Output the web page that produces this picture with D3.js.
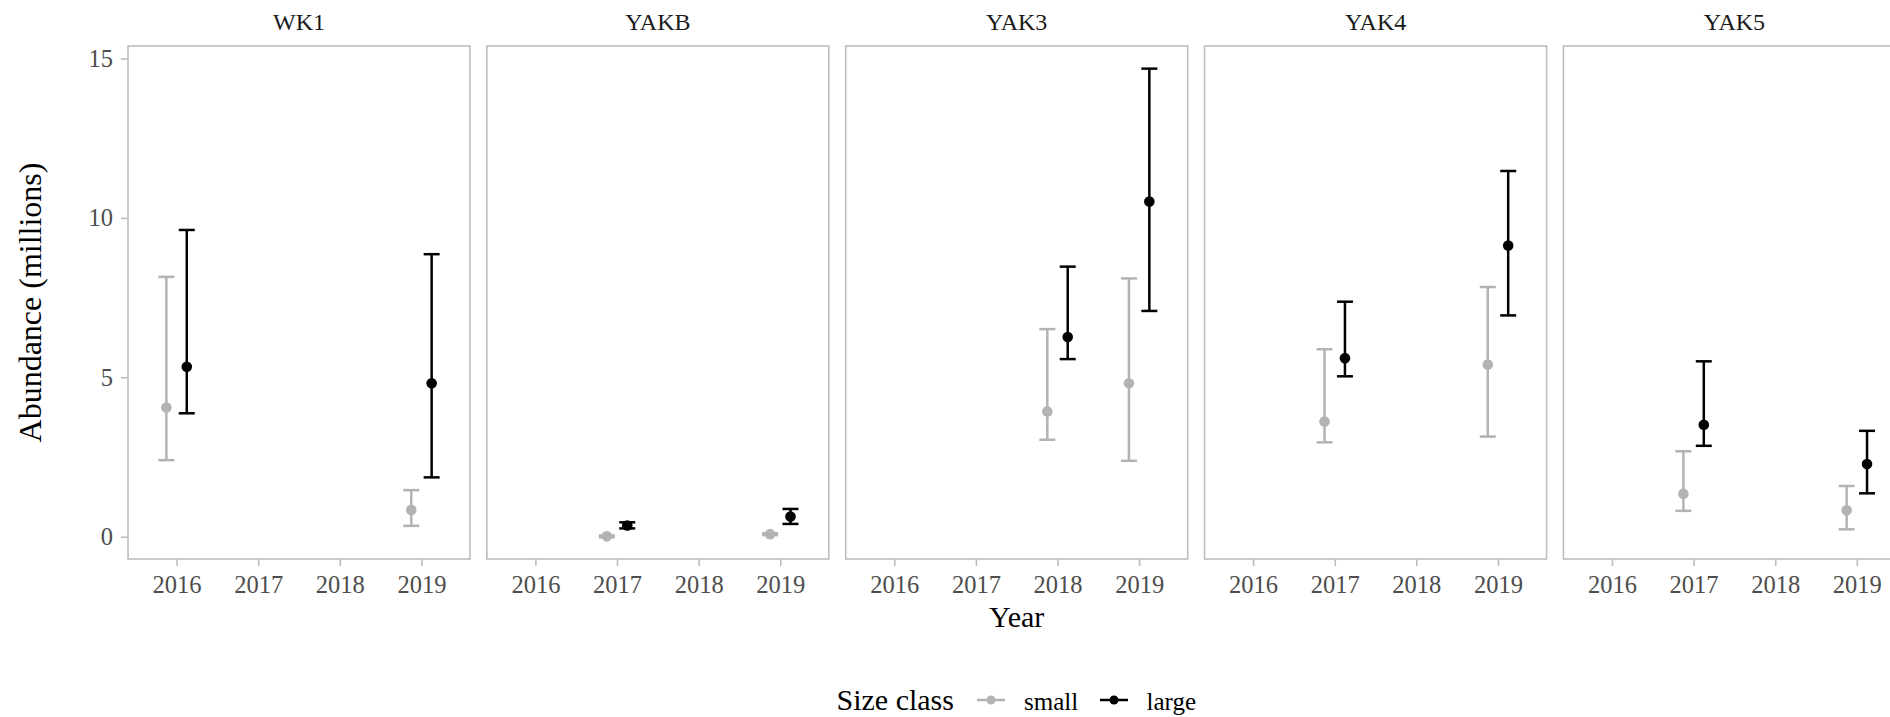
<!DOCTYPE html>
<html>
<head>
<meta charset="utf-8">
<script src="https://cdn.jsdelivr.net/npm/d3@7/dist/d3.min.js"></script>
<style>
  html, body { margin: 0; padding: 0; background: #fff; }
  svg { display: block; }
  text { font-family: "Liberation Serif", "Times New Roman", serif; }
</style>
</head>
<body>
<svg id="chart" width="1890" height="717"></svg>
<script>
// ---- data ----
const sites = ["WK1", "YAKB", "YAK3", "YAK4", "YAK5"];
const sizeClasses = ["small", "large"];
const years = [2016, 2017, 2018, 2019];
const yTicks = [0, 5, 10, 15];

const obsSite = ["WK1","WK1","WK1","WK1",
                 "YAKB","YAKB","YAKB","YAKB",
                 "YAK3","YAK3","YAK3","YAK3",
                 "YAK4","YAK4","YAK4","YAK4",
                 "YAK5","YAK5","YAK5","YAK5"];
const obsYear = [2016,2016,2019,2019,
                 2017,2017,2019,2019,
                 2018,2018,2019,2019,
                 2017,2017,2019,2019,
                 2017,2017,2019,2019];
const obsSize = ["small","large","small","large",
                 "small","large","small","large",
                 "small","large","small","large",
                 "small","large","small","large",
                 "small","large","small","large"];
const obsEstimate = [4.05, 5.33, 0.84, 4.81,
                     0.01, 0.35, 0.08, 0.63,
                     3.93, 6.26, 4.81, 10.51,
                     3.61, 5.60, 5.40, 9.13,
                     1.35, 3.51, 0.83, 2.28];
const obsLower = [2.40, 3.87, 0.34, 1.86,
                  -0.02, 0.26, 0.05, 0.40,
                  3.04, 5.57, 2.38, 7.08,
                  2.96, 5.03, 3.14, 6.94,
                  0.81, 2.85, 0.23, 1.36];
const obsUpper = [8.15, 9.62, 1.46, 8.86,
                  0.04, 0.45, 0.11, 0.87,
                  6.51, 8.47, 8.10, 14.68,
                  5.88, 7.37, 7.83, 11.47,
                  2.68, 5.50, 1.59, 3.32];

// ---- layout ----
const colorMap = { small: "#B3B3B3", large: "#000000" };
const panelLeft0 = 128, panelStep = 358.85, panelW = 342;
const panelTop = 46, panelBottom = 559;
const borderColor = "#BDBDBD";
const tickTextColor = "#4D4D4D";

const svg = d3.select("#chart");

const data = obsSite.map((s, i) => ({
  site: s, year: obsYear[i], size: obsSize[i],
  est: obsEstimate[i], lo: obsLower[i], hi: obsUpper[i]
}));

const x = d3.scaleLinear().domain([2015.405, 2019.595]).range([0, panelW]);
const y = d3.scaleLinear().domain([-0.70, 15.39]).range([panelBottom, panelTop]);
const dodge = d3.scaleOrdinal().domain(sizeClasses).range([-0.125, 0.125]);
const capHalf = 0.098;

sites.forEach((site, pi) => {
  const gx = panelLeft0 + pi * panelStep;
  const g = svg.append("g").attr("transform", `translate(${gx},0)`);

  // panel border
  g.append("rect")
    .attr("x", 0).attr("y", panelTop)
    .attr("width", panelW).attr("height", panelBottom - panelTop)
    .attr("fill", "none").attr("stroke", borderColor).attr("stroke-width", 1.6);

  // strip title
  g.append("text")
    .attr("x", panelW / 2).attr("y", 30)
    .attr("text-anchor", "middle")
    .attr("font-size", 24)
    .attr("fill", "#1A1A1A")
    .text(site);

  // x axis
  const xa = g.append("g")
    .attr("transform", `translate(0,${panelBottom})`)
    .call(d3.axisBottom(x).tickValues(years).tickFormat(d3.format("d")).tickSize(7).tickPadding(10));
  xa.select(".domain").remove();
  xa.selectAll(".tick line").attr("stroke", borderColor).attr("stroke-width", 1.6);
  xa.selectAll(".tick text")
    .attr("font-size", 24.5).attr("fill", tickTextColor)
    .attr("font-family", '"Liberation Serif", "Times New Roman", serif');

  // y axis only on first panel
  if (pi === 0) {
    const ya = g.append("g")
      .call(d3.axisLeft(y).tickValues(yTicks).tickSize(7).tickPadding(8));
    ya.select(".domain").remove();
    ya.selectAll(".tick line").attr("stroke", borderColor).attr("stroke-width", 1.6);
    ya.selectAll(".tick text")
      .attr("font-size", 24.5).attr("fill", tickTextColor)
      .attr("font-family", '"Liberation Serif", "Times New Roman", serif');
  }

  const pd = data.filter(d => d.site === site);
  const eb = g.selectAll(".eb").data(pd).enter().append("g");
  eb.append("line")
    .attr("x1", d => x(d.year + dodge(d.size))).attr("x2", d => x(d.year + dodge(d.size)))
    .attr("y1", d => y(d.lo)).attr("y2", d => y(d.hi))
    .attr("stroke", d => colorMap[d.size]).attr("stroke-width", 2.5);
  eb.append("line")
    .attr("x1", d => x(d.year + dodge(d.size) - capHalf)).attr("x2", d => x(d.year + dodge(d.size) + capHalf))
    .attr("y1", d => y(d.hi)).attr("y2", d => y(d.hi))
    .attr("stroke", d => colorMap[d.size]).attr("stroke-width", 2.5);
  eb.append("line")
    .attr("x1", d => x(d.year + dodge(d.size) - capHalf)).attr("x2", d => x(d.year + dodge(d.size) + capHalf))
    .attr("y1", d => y(d.lo)).attr("y2", d => y(d.lo))
    .attr("stroke", d => colorMap[d.size]).attr("stroke-width", 2.5);
  eb.append("circle")
    .attr("cx", d => x(d.year + dodge(d.size))).attr("cy", d => y(d.est))
    .attr("r", 5.3)
    .attr("fill", d => colorMap[d.size]);
});

// axis titles
svg.append("text")
  .attr("x", (panelLeft0 + panelLeft0 + 4 * panelStep + panelW) / 2).attr("y", 627)
  .attr("text-anchor", "middle").attr("font-size", 30).attr("fill", "#000")
  .text("Year");

svg.append("text")
  .attr("transform", `translate(41,${(panelTop + panelBottom) / 2}) rotate(-90)`)
  .attr("text-anchor", "middle").attr("font-size", 32).attr("fill", "#000")
  .text("Abundance (millions)");

// legend
const lg = svg.append("g");
lg.append("text").attr("x", 836.5).attr("y", 710).attr("font-size", 30).attr("fill", "#000").text("Size class");
const keyX = { small: 977, large: 1100 };
const labX = { small: 1024, large: 1146.5 };
sizeClasses.forEach(s => {
  lg.append("line").attr("x1", keyX[s]).attr("x2", keyX[s] + 28)
    .attr("y1", 700).attr("y2", 700)
    .attr("stroke", colorMap[s]).attr("stroke-width", 2.5);
  lg.append("circle").attr("cx", keyX[s] + 14).attr("cy", 700).attr("r", 4.5).attr("fill", colorMap[s]);
  lg.append("text").attr("x", labX[s]).attr("y", 710).attr("font-size", 25).attr("fill", "#000").text(s);
});
</script>
</body>
</html>
